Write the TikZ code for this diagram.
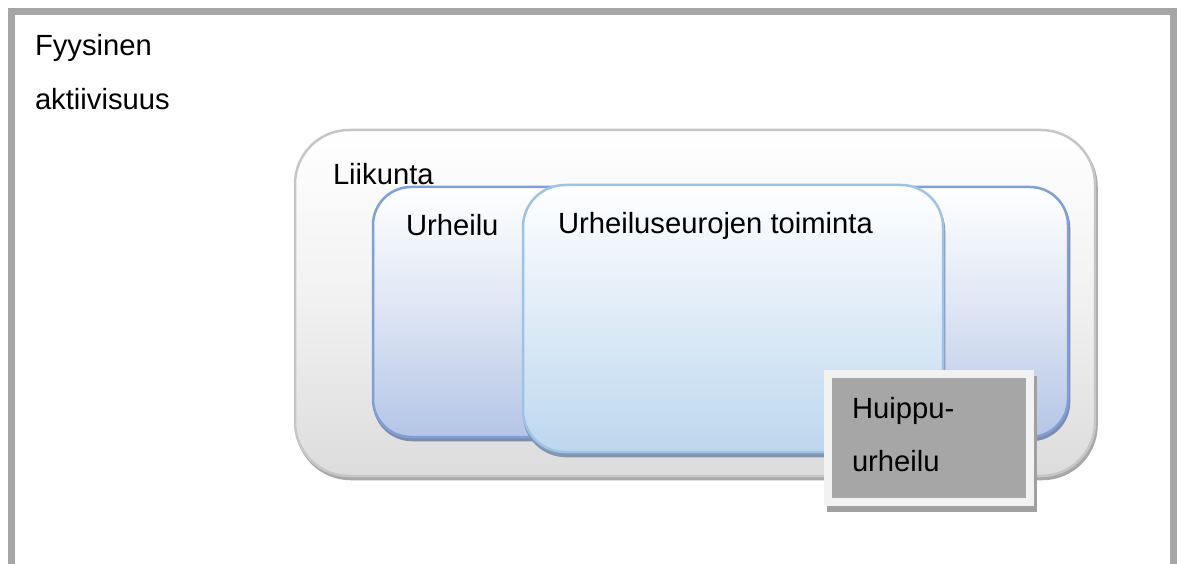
\documentclass[tikz,border=0pt]{standalone}
\usepackage{fontspec}
\setmainfont{Liberation Sans}
\definecolor{framegray}{HTML}{A6A6A6}
\definecolor{likborder}{HTML}{C6C6C6}
\definecolor{likbottom}{HTML}{DCDCDC}
\definecolor{likshadow}{HTML}{A8A8A8}
\definecolor{urhborder}{HTML}{7F9FD8}
\definecolor{urhbottom}{HTML}{B4C5E6}
\definecolor{urhshadow}{HTML}{7E8CA8}
\definecolor{seuborder}{HTML}{9DC3E6}
\definecolor{seubottom}{HTML}{BDD7EE}
\definecolor{seushadow}{HTML}{8496B0}
\definecolor{huifill}{HTML}{A6A6A6}
\definecolor{huiborder}{HTML}{F2F2F2}
\definecolor{huishadow}{HTML}{A0A0A0}
\tikzset{
  lbl/.style={anchor=base west, inner sep=0pt, outer sep=0pt, font=\fontsize{29.2}{35}\selectfont},
  boxbase/.style={inner sep=0pt, outer sep=0pt, line width=2.5pt},
  likbox/.style={boxbase, draw=likborder, top color=white, bottom color=likbottom, middle color=white!60!likbottom,
     rounded corners=54pt, minimum width=800pt, minimum height=346pt,
     preaction={fill=likshadow, draw=likshadow, transform canvas={xshift=1.5pt, yshift=-3pt}}},
  urhbox/.style={boxbase, draw=urhborder, top color=white, bottom color=urhbottom, middle color=white!55!urhbottom,
     rounded corners=38pt, minimum width=695pt, minimum height=250pt,
     preaction={fill=urhshadow, draw=urhshadow, transform canvas={xshift=1pt, yshift=-3pt}}},
  seubox/.style={boxbase, draw=seuborder, top color=white, bottom color=seubottom, middle color=white!50!seubottom,
     rounded corners=42pt, minimum width=420pt, minimum height=267pt,
     preaction={fill=seushadow, draw=seushadow, transform canvas={xshift=1pt, yshift=-4pt}}},
  huibox/.style={inner sep=0pt, outer sep=0pt, line width=8pt, draw=huiborder, fill=huifill,
     minimum width=202pt, minimum height=128pt,
     preaction={fill=huishadow, draw=huishadow, transform canvas={xshift=3pt, yshift=-6pt}}},
}
\begin{document}
\begin{tikzpicture}[x=1pt, y=-1pt]
\useasboundingbox (0,0) rectangle (1181,564);
\draw[framegray, line width=7pt, line join=miter] (11.5,570) -- (11.5,11.5) -- (1173.5,11.5) -- (1173.5,570);
\node[lbl] (fa1) at (35,56) {Fyysinen};
\node[lbl] (fa2) at (35,110) {aktiivisuus};
\node[likbox] (lik) at (695,303) {};
\node[lbl] (likT) at (333,185) {Liikunta};
\node[urhbox] (urh) at (720.5,312) {};
\node[lbl] (urhT) at (406,236) {Urheilu};
\node[seubox] (seu) at (733,318.5) {};
\node[lbl] (seuT) at (558,234) {Urheiluseurojen toiminta};
\node[huibox] (hui) at (929,438) {};
\node[lbl] (huiT1) at (852,418) {Huippu-};
\node[lbl] (huiT2) at (852,471) {urheilu};
\end{tikzpicture}
\end{document}
